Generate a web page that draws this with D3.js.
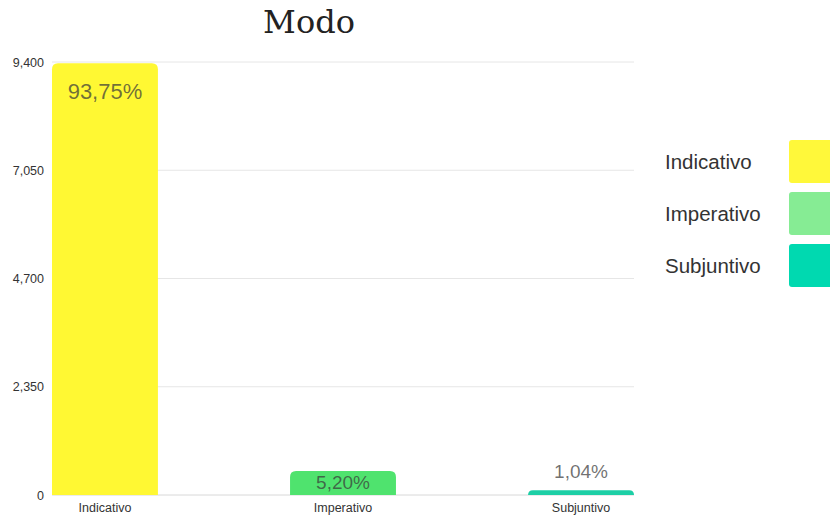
<!DOCTYPE html>
<html>
<head>
<meta charset="utf-8">
<script src="https://cdn.jsdelivr.net/npm/d3@7"></script>
<style>
  body { margin: 0; background: #fff; }
  svg { display: block; }
</style>
</head>
<body>
<script>
'use strict';

const categories = ['Indicativo', 'Imperativo', 'Subjuntivo'];
const values = [9375, 520, 104];
const percentLabels = ['93,75%', '5,20%', '1,04%'];
const barColors = ['#fff833', '#4fe36e', '#1dcfa6'];
const legendColors = ['#fff83a', '#86ec94', '#00d9b0'];
const yTicks = [0, 2350, 4700, 7050, 9400];

const W = 830, H = 519;
const plot = { left: 52, right: 634, top: 62, bottom: 495 };

let svg = d3.select('body').append('svg').attr('width', W).attr('height', H);

let xScale = d3.scaleBand()
  .domain(categories)
  .range([plot.left, plot.right])
  .paddingInner(0.555)
  .paddingOuter(0);

let yScale = d3.scaleLinear()
  .domain([0, 9400])
  .range([plot.bottom, plot.top]);

// Title
svg.append('text')
  .attr('x', 309).attr('y', 33)
  .attr('text-anchor', 'middle')
  .attr('font-family', 'DejaVu Serif, serif')
  .attr('font-size', 32)
  .attr('fill', '#222')
  .text('Modo');

// Gridlines
svg.append('g')
  .selectAll('line')
  .data(yTicks)
  .enter()
  .append('line')
  .attr('x1', plot.left).attr('x2', plot.right)
  .attr('y1', (d) => yScale(d)).attr('y2', (d) => yScale(d))
  .attr('stroke', (d) => d === 0 ? '#d8d8d8' : '#e6e6e6')
  .attr('stroke-width', 1);

// Y axis labels
let yAxis = d3.axisLeft(yScale).tickValues(yTicks).tickFormat(d3.format(',')).tickSize(0).tickPadding(8);
let yG = svg.append('g')
  .attr('transform', 'translate(' + plot.left + ',0)')
  .call(yAxis);
yG.select('.domain').remove();
yG.selectAll('text')
  .attr('font-family', 'Liberation Sans, Arial, sans-serif')
  .attr('font-size', 12.5)
  .attr('fill', '#333');

// X axis labels
let xAxis = d3.axisBottom(xScale).tickSize(0).tickPadding(8);
let xG = svg.append('g')
  .attr('transform', 'translate(0,' + plot.bottom + ')')
  .call(xAxis);
xG.select('.domain').remove();
xG.selectAll('text')
  .attr('font-family', 'Liberation Sans, Arial, sans-serif')
  .attr('font-size', 12.5)
  .attr('fill', '#333');

// Bars with rounded tops
function topRoundedBar(x, y, w, h, r) {
  r = Math.min(r, h, w / 2);
  return 'M' + x + ',' + (y + h) +
    'V' + (y + r) +
    'Q' + x + ',' + y + ' ' + (x + r) + ',' + y +
    'H' + (x + w - r) +
    'Q' + (x + w) + ',' + y + ' ' + (x + w) + ',' + (y + r) +
    'V' + (y + h) + 'Z';
}

let data = categories.map((c, i) => ({ cat: c, value: values[i], label: percentLabels[i], color: barColors[i] }));

svg.append('g')
  .selectAll('path')
  .data(data)
  .enter()
  .append('path')
  .attr('d', (d) => topRoundedBar(xScale(d.cat), yScale(d.value), xScale.bandwidth(), plot.bottom - yScale(d.value), 6))
  .attr('fill', (d) => d.color);

// Value labels
svg.append('g')
  .selectAll('text')
  .data(data)
  .enter()
  .append('text')
  .attr('x', (d) => xScale(d.cat) + xScale.bandwidth() / 2)
  .attr('y', (d) => {
    let top = yScale(d.value);
    if (plot.bottom - top < 10) return top - 12;
    return Math.min(top + 36, plot.bottom - 6);
  })
  .attr('text-anchor', 'middle')
  .attr('font-family', 'Liberation Sans, Arial, sans-serif')
  .attr('font-size', (d) => plot.bottom - yScale(d.value) > 100 ? 22 : 19)
  .attr('fill', '#3a3a3a')
  .attr('fill-opacity', 0.72)
  .text((d) => d.label);

// Legend
let legend = svg.append('g')
  .selectAll('g')
  .data(categories)
  .enter()
  .append('g')
  .attr('transform', (d, i) => 'translate(0,' + (140 + i * 52) + ')');

legend.append('rect')
  .attr('x', 789).attr('y', 0)
  .attr('width', 50).attr('height', 43)
  .attr('rx', 3)
  .attr('fill', (d, i) => legendColors[i]);

legend.append('text')
  .attr('x', 665).attr('y', 29)
  .attr('font-family', 'Liberation Sans, Arial, sans-serif')
  .attr('font-size', 20.5)
  .attr('fill', '#333')
  .text((d) => d);
</script>
</body>
</html>
